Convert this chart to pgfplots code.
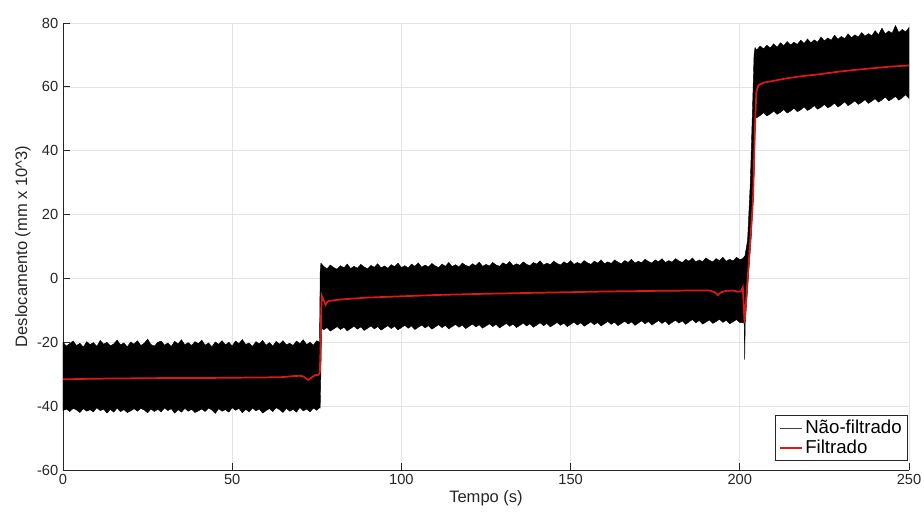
\documentclass[border=0pt]{standalone}
\usepackage{pgfplots}
\pgfplotsset{compat=1.18}
\usepackage{fontspec}
\setmainfont{Liberation Sans}
\definecolor{axgray}{RGB}{38,38,38}
\definecolor{gridgray}{RGB}{228,228,228}
\definecolor{filtred}{RGB}{220,25,25}

\begin{document}
\begin{tikzpicture}
% frame of the whole picture (1 px = 0.75 pt)
\path[use as bounding box] (-47.25pt,-36.75pt) rectangle (645.75pt,352.5pt);
\begin{axis}[
  scale only axis, width=634.5pt, height=335.25pt,
  xmin=0, xmax=250, ymin=-60, ymax=80,
  xtick={0,50,...,250}, ytick={-60,-40,...,80},
  axis x line*=bottom, axis y line*=left,
  axis line style={axgray, line width=0.6pt, -},
  tick align=inside, major tick length=5pt,
  tick style={axgray, line width=0.6pt},
  grid=major, major grid style={gridgray, line width=0.5pt},
  ticklabel style={font=\fontsize{11}{13}\selectfont, text=axgray},
  /pgf/number format/assume math mode=true,
  xlabel={Tempo (s)}, ylabel={Deslocamento (mm x 10\^{}3)},
  label style={font=\fontsize{12.4}{14}\selectfont, text=axgray},
  xlabel style={yshift=3pt},
  ylabel style={yshift=-2pt},
  legend style={at={(rel axis cs:0.999,0.02)}, anchor=south east,
    draw=axgray, fill=white, line width=0.6pt,
    font=\fontsize{14}{16}\selectfont, text=black,
    inner xsep=3pt, inner ysep=2.5pt, row sep=1.5pt,
    nodes={inner xsep=1.5pt, inner ysep=1pt}},
  legend cell align=left,
  legend image code/.code={\draw[#1] (0pt,0pt) -- (16.5pt,0pt);},
]
% unfiltered signal: envelope of the dense noisy trace (upper edge, then lower edge back)
\addplot[fill=black, draw=black, line width=0.3pt, forget plot] coordinates {
(0,-20.0) (1,-21.2) (2,-20.4) (3,-19.6) (4,-21.0) (5,-20.3) (6,-21.5) (7,-19.8) (8,-20.7) (9,-20.1)
(10,-21.3) (11,-19.4) (12,-20.6) (13,-20.0) (14,-21.1) (15,-20.5) (16,-19.3) (17,-20.8) (18,-20.2) (19,-21.4)
(20,-19.9) (21,-20.6) (22,-19.5) (23,-21.0) (24,-20.3) (25,-19.0) (26,-20.7) (27,-21.2) (28,-20.0) (29,-19.6)
(30,-20.9) (31,-20.2) (32,-21.3) (33,-19.7) (34,-20.5) (35,-19.2) (36,-20.8) (37,-20.1) (38,-21.0) (39,-19.8)
(40,-20.4) (41,-19.3) (42,-20.9) (43,-20.2) (44,-21.4) (45,-19.9) (46,-20.6) (47,-19.5) (48,-20.8) (49,-20.0)
(50,-21.1) (51,-19.6) (52,-20.4) (53,-19.1) (54,-20.7) (55,-20.2) (56,-21.3) (57,-19.8) (58,-20.5) (59,-19.4)
(60,-20.9) (61,-20.1) (62,-21.2) (63,-19.7) (64,-20.6) (65,-19.5) (66,-20.8) (67,-20.3) (68,-21.0) (69,-19.6)
(70,-20.4) (71,-19.2) (72,-20.7) (73,-20.0) (74,-20.9) (75,-19.5) (75.8,-20.0)
(76.0,2.0) (76.2,4.8)
(77,3.8) (78,3.0) (79,4.2) (80,3.4) (81,2.9) (82,4.0) (83,3.3) (84,4.5) (85,3.1) (86,3.8) (87,3.2) (88,4.4) (89,3.6)
(90,3.0) (91,4.1) (92,3.5) (93,4.6) (94,3.3) (95,3.9) (96,3.2) (97,4.3) (98,3.7) (99,4.8)
(100,3.4) (101,4.0) (102,3.3) (103,4.5) (104,3.8) (105,4.9) (106,3.5) (107,4.2) (108,3.6) (109,4.7)
(110,3.9) (111,3.4) (112,4.5) (113,3.8) (114,5.0) (115,3.7) (116,4.3) (117,3.6) (118,4.8) (119,4.1)
(120,3.7) (121,4.6) (122,4.0) (123,5.1) (124,3.8) (125,4.4) (126,3.9) (127,5.0) (128,4.2) (129,3.8)
(130,4.9) (131,4.3) (132,5.3) (133,4.0) (134,4.6) (135,4.1) (136,5.2) (137,4.4) (138,4.0) (139,5.0)
(140,4.5) (141,5.5) (142,4.2) (143,4.8) (144,4.3) (145,5.4) (146,4.7) (147,4.2) (148,5.2) (149,4.6)
(150,5.6) (151,4.4) (152,5.0) (153,4.5) (154,5.6) (155,4.9) (156,4.4) (157,5.4) (158,4.8) (159,5.8)
(160,4.6) (161,5.2) (162,4.7) (163,5.8) (164,5.1) (165,4.6) (166,5.6) (167,5.0) (168,6.0) (169,4.8)
(170,5.4) (171,4.9) (172,6.0) (173,5.3) (174,4.8) (175,5.8) (176,5.2) (177,6.2) (178,5.0) (179,5.6)
(180,5.1) (181,6.2) (182,5.5) (183,5.0) (184,6.0) (185,5.4) (186,6.4) (187,5.2) (188,5.8) (189,5.3)
(190,6.4) (191,5.7) (192,5.2) (193,6.2) (194,5.6) (195,6.6) (196,5.4) (197,6.0) (198,5.5) (199,6.6)
(200,5.9) (200.8,6.2) (201.5,7.0)
(202.3,12) (203.1,30) (203.8,55) (204.2,70) (204.5,72.3)
(205,71.5) (206,72.8) (207,71.9) (208,73.0) (209,72.2) (210,73.5) (211,72.4) (212,73.8) (213,72.9) (214,74.2)
(215,73.1) (216,74.0) (217,73.3) (218,74.6) (219,73.6) (220,75.0) (221,73.8) (222,74.7) (223,74.0) (224,75.6)
(225,74.4) (226,75.3) (227,74.6) (228,76.2) (229,74.9) (230,75.8) (231,75.1) (232,76.6) (233,75.4) (234,76.3)
(235,75.6) (236,77.0) (237,75.9) (238,76.7) (239,76.0) (240,77.6) (241,76.3) (242,78.4) (243,76.6) (244,77.5)
(245,76.8) (246,79.2) (247,77.0) (248,78.0) (249,77.2) (250,78.6)
(250,56.4) (249,57.5) (248,56.6) (247,55.8) (246,57.0) (245,56.2) (244,55.6) (243,56.8) (242,55.9) (241,55.2)
(240,56.3) (239,55.5) (238,54.8) (237,56.0) (236,55.1) (235,54.5) (234,55.6) (233,54.8) (232,54.1) (231,55.3)
(230,54.4) (229,53.7) (228,54.9) (227,54.0) (226,53.4) (225,54.5) (224,53.6) (223,53.0) (222,54.1) (221,53.2)
(220,52.6) (219,53.7) (218,52.8) (217,52.2) (216,53.3) (215,52.4) (214,51.8) (213,52.9) (212,52.0) (211,51.4)
(210,52.4) (209,51.5) (208,50.9) (207,51.9) (206,51.0) (205,50.3) (204.6,50.5)
(204.3,35) (203.5,15) (202.5,0) (201.6,-14) (201.45,-25.5) (201.3,-14)
(200,-13.8) (199,-12.9) (198,-13.6) (197,-14.2) (196,-13.1) (195,-13.8) (194,-12.8) (193,-13.5) (192,-14.1) (191,-13.0)
(190,-13.7) (189,-14.3) (188,-13.2) (187,-13.9) (186,-12.9) (185,-13.6) (184,-14.4) (183,-13.3) (182,-14.0) (181,-13.1)
(180,-13.8) (179,-14.5) (178,-13.4) (177,-14.1) (176,-13.2) (175,-13.9) (174,-14.6) (173,-13.5) (172,-14.2) (171,-13.3)
(170,-14.0) (169,-14.7) (168,-13.6) (167,-14.3) (166,-13.4) (165,-14.1) (164,-14.8) (163,-13.7) (162,-14.4) (161,-13.5)
(160,-14.2) (159,-14.9) (158,-13.8) (157,-14.5) (156,-13.6) (155,-14.3) (154,-15.0) (153,-13.9) (152,-14.6) (151,-13.7)
(150,-14.4) (149,-15.1) (148,-14.0) (147,-14.7) (146,-13.8) (145,-14.5) (144,-15.2) (143,-14.1) (142,-14.8) (141,-13.9)
(140,-14.6) (139,-15.3) (138,-14.2) (137,-14.9) (136,-14.0) (135,-14.7) (134,-15.4) (133,-14.3) (132,-15.0) (131,-14.1)
(130,-14.8) (129,-15.5) (128,-14.4) (127,-15.1) (126,-14.2) (125,-14.9) (124,-15.6) (123,-14.5) (122,-15.2) (121,-14.3)
(120,-15.0) (119,-15.7) (118,-14.6) (117,-15.3) (116,-14.4) (115,-15.1) (114,-15.8) (113,-14.7) (112,-15.4) (111,-14.5)
(110,-15.2) (109,-15.9) (108,-14.8) (107,-15.5) (106,-14.6) (105,-15.3) (104,-16.0) (103,-14.9) (102,-15.6) (101,-14.7)
(100,-15.4) (99,-16.1) (98,-15.0) (97,-15.7) (96,-14.8) (95,-15.5) (94,-16.2) (93,-15.1) (92,-15.8) (91,-14.9)
(90,-15.6) (89,-16.3) (88,-15.2) (87,-15.9) (86,-15.0) (85,-15.7) (84,-16.4) (83,-15.3) (82,-16.0) (81,-15.1)
(80,-15.8) (79,-16.5) (78,-15.4) (77,-16.1) (76.4,-15.5) (76.2,-30) (76.0,-40.6)
(75.8,-40.5) (75,-41.3) (74,-40.6) (73,-41.8) (72,-40.9) (71,-41.5) (70,-40.4) (69,-41.9) (68,-41.0) (67,-41.6)
(66,-40.7) (65,-42.0) (64,-41.1) (63,-40.5) (62,-41.7) (61,-40.8) (60,-41.4) (59,-42.2) (58,-40.9) (57,-41.5)
(56,-40.6) (55,-41.8) (54,-41.0) (53,-42.1) (52,-40.7) (51,-41.3) (50,-40.5) (49,-41.9) (48,-41.1) (47,-41.6)
(46,-40.8) (45,-42.3) (44,-41.2) (43,-40.6) (42,-41.7) (41,-40.9) (40,-41.5) (39,-42.0) (38,-41.0) (37,-41.6)
(36,-40.7) (35,-41.9) (34,-41.1) (33,-42.2) (32,-40.8) (31,-41.4) (30,-40.6) (29,-41.8) (28,-41.0) (27,-41.7)
(26,-40.9) (25,-42.1) (24,-41.2) (23,-40.7) (22,-41.6) (21,-40.8) (20,-41.5) (19,-42.0) (18,-41.1) (17,-41.7)
(16,-40.6) (15,-41.9) (14,-41.0) (13,-42.2) (12,-40.9) (11,-41.4) (10,-40.5) (9,-41.8) (8,-41.1) (7,-41.6)
(6,-40.8) (5,-42.0) (4,-41.2) (3,-40.7) (2,-41.7) (1,-40.9) (0,-41.4)
} -- cycle;
\addlegendimage{black!75, line width=0.4pt}
\addlegendentry{Não-filtrado}
% filtered signal
\addplot[filtred, line width=1.3pt] coordinates {
(0,-31.6) (10,-31.4) (20,-31.3) (30,-31.2) (40,-31.2) (50,-31.1) (60,-31.0) (65,-30.9) (68,-30.6)
(70,-30.5) (71,-30.7) (72.5,-31.8) (73.5,-31.0) (74.5,-30.3) (75.5,-30.2) (75.9,-29.5)
(76.1,-22) (76.3,-10) (76.5,-5.5) (77,-6.8) (77.6,-8.3) (78.2,-7.2) (79,-7.0) (82,-6.6) (90,-6.0)
(100,-5.6) (110,-5.2) (125,-4.8) (140,-4.5) (150,-4.3) (160,-4.1) (175,-3.9) (185,-3.8) (191,-3.8)
(192.5,-4.3) (193.5,-5.2) (194.5,-4.3) (196,-3.9) (198,-3.8) (199.5,-4.2) (200.3,-4.0) (200.9,-2.8)
(201.4,-14) (202.2,-2) (203.1,12) (203.9,24.5) (204.5,48) (204.9,58.5) (205.5,60.5) (207,61.3)
(210,61.9) (214,62.7) (218,63.3) (224,64.0) (228,64.6) (234,65.3) (240,65.9) (244,66.3) (250,66.7)
};
\addlegendentry{Filtrado}
\end{axis}
\end{tikzpicture}
\end{document}
